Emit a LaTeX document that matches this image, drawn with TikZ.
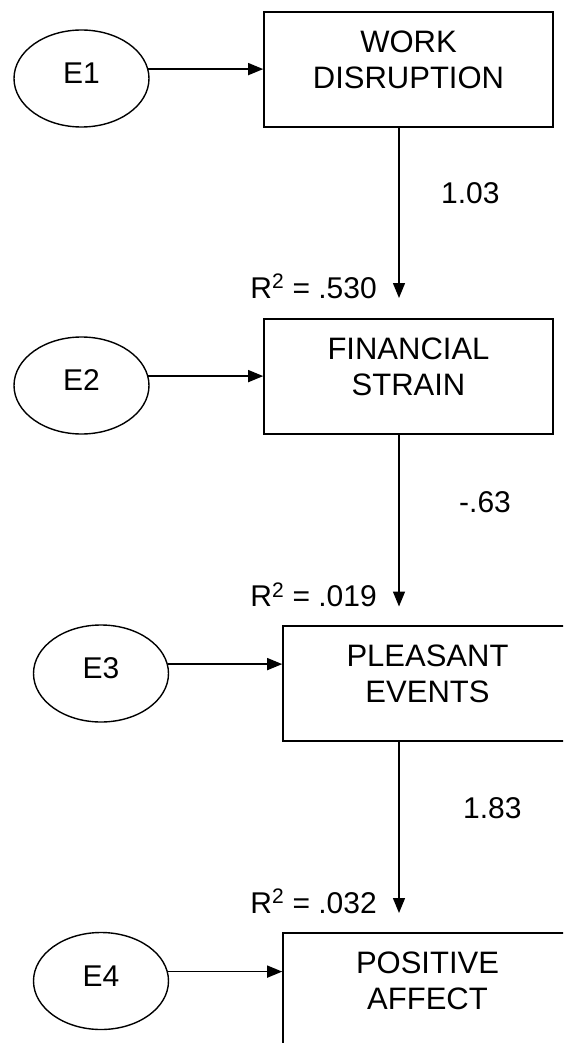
\documentclass[tikz,border=0pt]{standalone}
\usepackage{fontspec}
\setmainfont{Liberation Sans}
\usetikzlibrary{arrows.meta,shapes.geometric}
\begin{document}
\begin{tikzpicture}[x=1pt,y=-1pt,
  ell/.style={draw, ellipse, line width=1.4pt, minimum width=135pt, minimum height=97pt,
    inner sep=0pt, font=\fontsize{30}{36}\selectfont, text depth=10pt},
  box/.style={draw, rectangle, line width=1.6pt, minimum width=289pt, minimum height=115pt, inner sep=0pt},
  btxt/.style={align=center, inner sep=0pt, font=\fontsize{31}{36}\selectfont},
  lbl/.style={inner sep=0pt, font=\fontsize{30}{36}\selectfont},
  arr/.style={-{Triangle[length=15pt,width=12pt]}, line width=1.4pt}]
\clip (0,0) rectangle (563,1043);
\fill[white] (0,0) rectangle (563,1043);
% boxes
\node[box] (b1) at (408.5,69.5) {};
\node[box] (b2) at (408.5,376.5) {};
\node[box] (b3) at (427.5,683.5) {};
\node[box] (b4) at (427.5,990.5) {};
\node[btxt] (t1) at ([yshift=10pt]b1.center) {WORK\\DISRUPTION};
\node[btxt] (t2) at ([yshift=10pt]b2.center) {FINANCIAL\\STRAIN};
\node[btxt] (t3) at ([yshift=10pt]b3.center) {PLEASANT\\EVENTS};
\node[btxt] (t4) at ([yshift=10pt]b4.center) {POSITIVE\\AFFECT};
% error terms
\node[ell] (e1) at (81.5,78.5) {E1};
\node[ell] (e2) at (81.5,385.5) {E2};
\node[ell] (e3) at (101,673.5) {E3};
\node[ell] (e4) at (101,981) {E4};
\draw[arr] (e1.8) -- (e1.8 -| b1.west);
\draw[arr] (e2.8) -- (e2.8 -| b2.west);
\draw[arr] (e3.8) -- (e3.8 -| b3.west);
\draw[arr] (e4.8) -- (e4.8 -| b4.west);
% paths
\coordinate (p1) at (399,298);
\coordinate (p2) at (399,606.5);
\coordinate (p3) at (399,913);
\draw[arr] (b1.south -| p1) -- (p1);
\draw[arr] (b2.south -| p2) -- (p2);
\draw[arr] (b3.south -| p3) -- (p3);
% labels
\node[lbl, anchor=base east] (r1) at (377,298) {R\textsuperscript{2} = .530};
\node[lbl, anchor=base east] (r2) at (377,606.5) {R\textsuperscript{2} = .019};
\node[lbl, anchor=base east] (r3) at (377,913) {R\textsuperscript{2} = .032};
\node[lbl, anchor=base west] (c1) at (441,204) {1.03};
\node[lbl, anchor=base west] (c2) at (459,512) {-.63};
\node[lbl, anchor=base west] (c3) at (463,818) {1.83};
\end{tikzpicture}
\end{document}
